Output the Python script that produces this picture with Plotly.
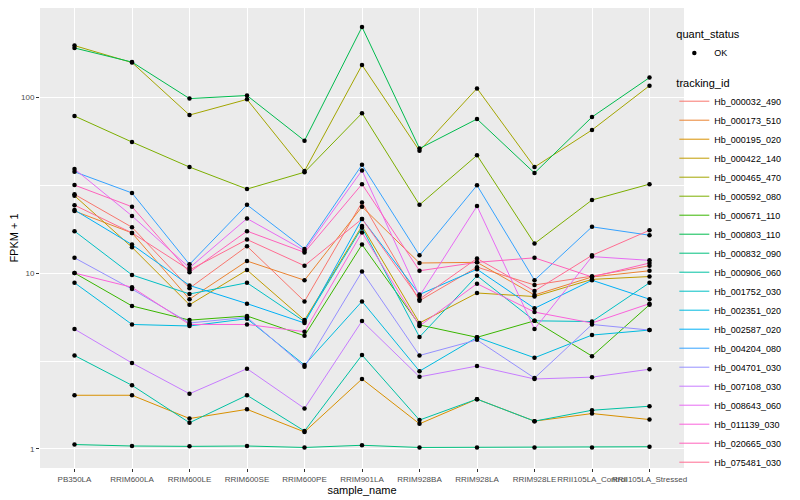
import plotly.graph_objects as go

samples = ["PB350LA", "RRIM600LA", "RRIM600LE", "RRIM600SE", "RRIM600PE", "RRIM901LA",
           "RRIM928BA", "RRIM928LA", "RRIM928LE", "RRII105LA_Control", "RRII105LA_Stressed"]

tracking_ids = ["Hb_000032_490", "Hb_000173_510", "Hb_000195_020", "Hb_000422_140", "Hb_000465_470",
                "Hb_000592_080", "Hb_000671_110", "Hb_000803_110", "Hb_000832_090", "Hb_000906_060",
                "Hb_001752_030", "Hb_002351_020", "Hb_002587_020", "Hb_004204_080", "Hb_004701_030",
                "Hb_007108_030", "Hb_008643_060", "Hb_011139_030", "Hb_020665_030", "Hb_075481_030"]

# FPKM + 1 per tracking_id, one value per sample
Hb_000032_490 = [28.0, 18.2, 8.2, 14.2, 6.9, 25.2, 6.96, 10.8, 8.55, 9.6, 11.0]
Hb_000173_510 = [22.5, 16.9, 7.1, 11.7, 9.1, 23.8, 11.4, 11.5, 7.5, 9.5, 10.3]
Hb_000195_020 = [2.02, 2.02, 1.49, 1.68, 1.25, 2.5, 1.39, 1.92, 1.44, 1.59, 1.47]
Hb_000422_140 = [27.5, 14.0, 6.6, 10.4, 5.4, 18.5, 5.2, 7.7, 7.35, 9.2, 9.55]
Hb_000465_470 = [196, 157, 79, 97, 38, 152, 49.5, 112, 40, 65, 116]
Hb_000592_080 = [78, 55.5, 40, 30, 37.4, 81, 24.4, 46.7, 14.7, 26, 32]
Hb_000671_110 = [10.0, 6.5, 5.4, 5.7, 4.4, 14.5, 5.07, 4.31, 5.35, 3.37, 6.6]
Hb_000803_110 = [190, 158, 98, 102, 56.5, 250, 51, 75, 37, 77, 129]
Hb_000832_090 = [1.06, 1.04, 1.035, 1.04, 1.02, 1.05, 1.02, 1.02, 1.02, 1.02, 1.03]
Hb_000906_060 = [3.4, 2.3, 1.41, 2.02, 1.265, 3.42, 1.46, 1.92, 1.44, 1.66, 1.75]
Hb_001752_030 = [17.3, 9.75, 7.6, 8.8, 5.3, 18.1, 4.33, 9.65, 5.35, 5.3, 8.8]
Hb_002351_020 = [8.8, 5.1, 5.0, 5.5, 3.0, 6.9, 2.77, 4.31, 3.3, 4.44, 4.74]
Hb_002587_020 = [22.8, 14.5, 8.5, 6.7, 5.2, 20.3, 7.55, 10.5, 6.3, 9.1, 7.1]
Hb_004204_080 = [37.6, 28.5, 11.2, 24.4, 13.7, 41.2, 12.6, 31.5, 9.1, 18.3, 16.4]
Hb_004701_030 = [12.2, 8.1, 5.2, 5.6, 2.93, 10.2, 3.4, 4.17, 2.53, 5.1, 4.74]
Hb_007108_030 = [4.8, 3.08, 2.06, 2.86, 1.70, 5.34, 2.57, 2.96, 2.5, 2.56, 2.84]
Hb_008643_060 = [39, 21.1, 10.7, 20.4, 13.4, 38.3, 7.4, 24, 4.8, 12.4, 11.8]
Hb_011139_030 = [10.0, 8.3, 5.1, 5.1, 4.64, 17.0, 5.0, 8.7, 6.0, 5.2, 6.7]
Hb_020665_030 = [31.6, 23.8, 10.1, 17.3, 13.1, 32.0, 10.3, 11.5, 12.2, 9.5, 11.4]
Hb_075481_030 = [24.3, 16.9, 10.4, 15.5, 11.0, 20.3, 7.1, 12.1, 7.9, 12.6, 17.5]

series = [Hb_000032_490, Hb_000173_510, Hb_000195_020, Hb_000422_140, Hb_000465_470,
          Hb_000592_080, Hb_000671_110, Hb_000803_110, Hb_000832_090, Hb_000906_060,
          Hb_001752_030, Hb_002351_020, Hb_002587_020, Hb_004204_080, Hb_004701_030,
          Hb_007108_030, Hb_008643_060, Hb_011139_030, Hb_020665_030, Hb_075481_030]

colors = ["#F8766D", "#EA8331", "#D89000", "#C09B00", "#A3A500", "#7CAE00", "#39B600", "#00BB4E",
          "#00BF7D", "#00C1A3", "#00BFC4", "#00BAE0", "#00B0F6", "#35A2FF", "#9590FF", "#C77CFF",
          "#E76BF3", "#FA62DB", "#FF62BC", "#FF6C91"]

FONT = "Liberation Sans, Arial, sans-serif"

fig = go.Figure()

for name, vals, col in zip(tracking_ids, series, colors):
    fig.add_trace(go.Scatter(
        x=samples, y=vals, mode="lines", name=name,
        line=dict(color=col, width=1), legend="legend",
    ))

all_x = [s for _ in series for s in samples]
all_y = [v for vals in series for v in vals]
fig.add_trace(go.Scatter(
    x=all_x, y=all_y, mode="markers", name="OK",
    marker=dict(color="black", size=4.5), legend="legend2",
))

# the page body adds an 8px offset, so the figure is 8px smaller and margins compensate
fig.update_layout(
    width=792, height=492,
    margin=dict(l=32, r=116, t=0, b=32, autoexpand=False),
    paper_bgcolor="white", plot_bgcolor="#EBEBEB",
    font=dict(family=FONT, size=9, color="#4D4D4D"),
    showlegend=True,
    legend=dict(
        x=0.985, xanchor="left", y=0.86, yanchor="top",
        title=dict(text="tracking_id", font=dict(family=FONT, size=11, color="black")),
        font=dict(family=FONT, size=9, color="black"),
        bgcolor="rgba(0,0,0,0)", tracegroupgap=0,
    ),
    legend2=dict(
        x=0.985, xanchor="left", y=0.965, yanchor="top",
        title=dict(text="quant_status", font=dict(family=FONT, size=11, color="black")),
        font=dict(family=FONT, size=9, color="black"),
        bgcolor="rgba(0,0,0,0)",
    ),
)

fig.update_xaxes(
    type="category", categoryorder="array", categoryarray=samples,
    tickmode="array", tickvals=samples, ticktext=samples,
    range=[-0.6, len(samples) - 0.4], automargin=False,
    showgrid=True, gridcolor="white", gridwidth=1.2,
    ticks="outside", ticklen=3, tickcolor="#333333", tickangle=0,
    tickfont=dict(family=FONT, size=8, color="#4D4D4D"),
    title=dict(text="sample_name", font=dict(family=FONT, size=11, color="black"), standoff=1),
    zeroline=False, showline=False,
)

fig.update_yaxes(
    type="log", range=[-0.108, 2.506], automargin=False,
    tickmode="array", tickvals=[1, 10, 100], ticktext=["1", "10", "100"],
    showgrid=True, gridcolor="white", gridwidth=1.2,
    minor=dict(tickmode="array", tickvals=[10 ** 0.5, 10 ** 1.5], showgrid=True,
               gridcolor="white", gridwidth=0.5, ticks=""),
    ticks="outside", ticklen=3, tickcolor="#333333",
    tickfont=dict(family=FONT, size=8, color="#4D4D4D"),
    title=dict(text="FPKM + 1", font=dict(family=FONT, size=11, color="black"), standoff=2),
    zeroline=False, showline=False,
)

fig.write_html("out.html")
